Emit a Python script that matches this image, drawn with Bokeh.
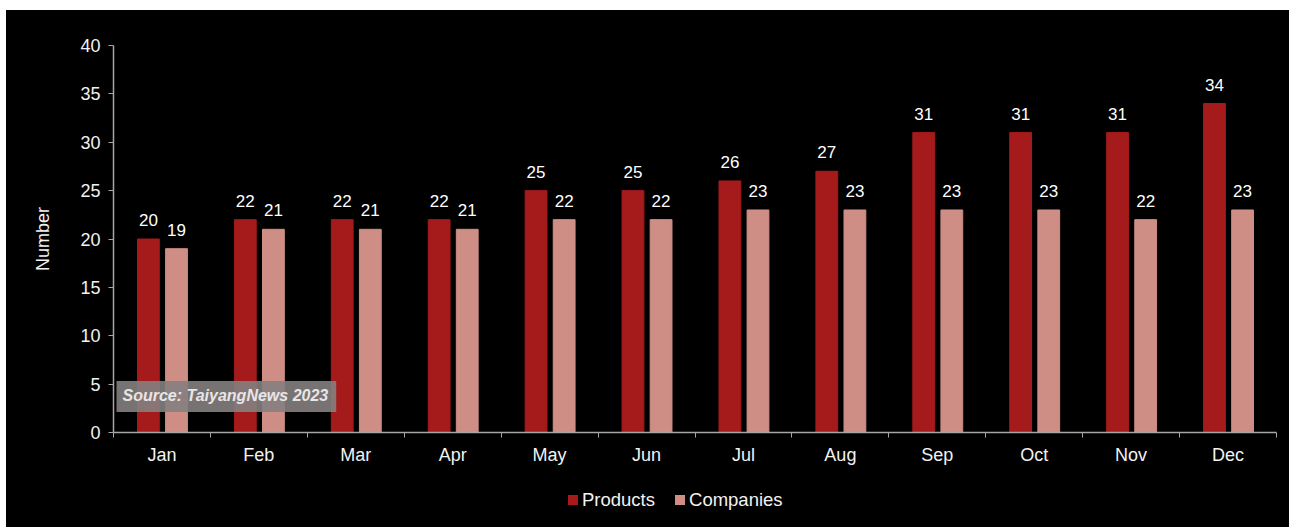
from bokeh.plotting import figure
from bokeh.layouts import column
from bokeh.models import ColumnDataSource, FixedTicker, Range1d, Label, Div
from bokeh.transform import dodge
from bokeh.core.properties import value
from bokeh.embed import file_html
from bokeh.resources import INLINE

months = ["Jan", "Feb", "Mar", "Apr", "May", "Jun", "Jul", "Aug", "Sep", "Oct", "Nov", "Dec"]
products = [20, 22, 22, 22, 25, 25, 26, 27, 31, 31, 31, 34]
companies = [19, 21, 21, 21, 22, 22, 23, 23, 23, 23, 22, 23]
y_ticks = [0, 5, 10, 15, 20, 25, 30, 35, 40]
series_names = ["Products", "Companies"]

PROD_COLOR = "#A51B1B"
COMP_COLOR = "#CE8E86"
AXIS_COLOR = "#A6A6A6"
TEXT_COLOR = "#F2F2F2"
FONT = "Liberation Sans"

xc = [i + 0.5 for i in range(len(months))]
src = ColumnDataSource(dict(
    x=xc, products=products, companies=companies,
    ptxt=[str(v) for v in products], ctxt=[str(v) for v in companies],
))

p = figure(frame_width=1163, frame_height=387, output_backend="svg", toolbar_location=None,
           x_range=Range1d(0, 12), y_range=Range1d(0, 40),
           min_border_left=107, min_border_right=13, min_border_top=35, min_border_bottom=45,
           background_fill_color="black", border_fill_color="black")
p.margin = 0
p.outline_line_color = None
p.grid.visible = False

r1 = p.vbar(x=dodge("x", -0.14), top="products", width=0.225, source=src,
            fill_color=PROD_COLOR, line_color=PROD_COLOR)
r2 = p.vbar(x=dodge("x", 0.15), top="companies", width=0.225, source=src,
            fill_color=COMP_COLOR, line_color=COMP_COLOR)

p.text(x=dodge("x", -0.14), y="products", text="ptxt", source=src,
       text_align="center", text_baseline="bottom", y_offset=-13,
       text_color="white", text_font=value(FONT), text_font_size="17px")
p.text(x=dodge("x", 0.15), y="companies", text="ctxt", source=src,
       text_align="center", text_baseline="bottom", y_offset=-13,
       text_color="white", text_font=value(FONT), text_font_size="17px")

# x axis
xa = p.xaxis[0]
xa.ticker = FixedTicker(ticks=xc, minor_ticks=list(range(13)))
xa.major_label_overrides = {x: m for x, m in zip(xc, months)}
xa.major_tick_out = 0
xa.major_tick_in = 0
xa.minor_tick_out = 5
xa.minor_tick_in = 0
xa.minor_tick_line_color = AXIS_COLOR
xa.axis_line_color = AXIS_COLOR
xa.axis_line_width = 1.5
xa.major_label_text_color = TEXT_COLOR
xa.major_label_text_font = FONT
xa.major_label_text_font_size = "18px"
xa.major_label_standoff = 7

# y axis
ya = p.yaxis[0]
ya.ticker = FixedTicker(ticks=y_ticks)
ya.major_tick_out = 5
ya.major_tick_in = 0
ya.minor_tick_line_color = None
ya.major_tick_line_color = AXIS_COLOR
ya.axis_line_color = AXIS_COLOR
ya.axis_line_width = 1.5
ya.major_label_text_color = TEXT_COLOR
ya.major_label_text_font = FONT
ya.major_label_text_font_size = "18px"
ya.major_label_standoff = 8
ya.axis_label = "Number"
ya.axis_label_text_color = TEXT_COLOR
ya.axis_label_text_font = FONT
ya.axis_label_text_font_size = "18px"
ya.axis_label_text_font_style = "normal"
ya.axis_label_standoff = 24

src_label = Label(x=0.031, y=3.72, text="Source: TaiyangNews 2023",
                  text_baseline="middle", text_align="left",
                  text_font=FONT, text_font_size="16px", text_font_style="bold italic",
                  text_color="#E6E6E6",
                  background_fill_color="#858080", background_fill_alpha=0.9,
                  padding=(6, 8, 6, 8))
p.add_layout(src_label)

# legend strip below the chart (HTML text)
items_html = ""
for i, (name, col) in enumerate(zip(series_names, [PROD_COLOR, COMP_COLOR])):
    ml = "0px" if i == 0 else "20px"
    items_html += (f'<span style="display:inline-block;width:10px;height:10px;'
                   f'background:{col};margin-left:{ml};margin-right:4px;"></span>'
                   f'<span>{name}</span>')
legend_html = (f'<div style="width:1283px;height:50px;box-sizing:border-box;'
               f'padding-left:562px;padding-bottom:5px;display:flex;align-items:center;'
               f'font-family:\'{FONT}\';font-size:18.5px;line-height:20px;'
               f'color:{TEXT_COLOR};background:black;">{items_html}</div>')
lg = Div(text=legend_html, width=1283, height=50,
         styles={"background-color": "black", "margin": "0", "padding": "0"})
lg.margin = 0

layout = column(p, lg, spacing=0, styles={"background-color": "black"})
layout.margin = (10, 0, 0, 6)
open("out.html", "w").write(file_html(layout, INLINE))
